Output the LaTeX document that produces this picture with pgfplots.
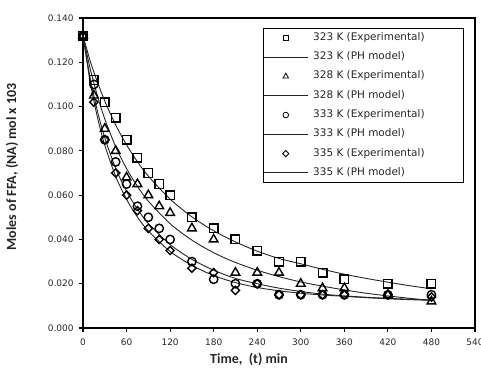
\documentclass[border=0pt]{standalone}
\usepackage{pgfplots}
\pgfplotsset{compat=1.18}
\usepackage{fontspec}
\setmainfont{DejaVu Sans}
\newfontfamily\labelfont{Carlito}
\newcommand\legtxt[1]{\makebox[150bp][l]{#1}}
\begin{document}
\begin{tikzpicture}
\begin{axis}[name=ax, scale only axis, width=392bp, height=310bp,
  xmin=0, xmax=540, ymin=0, ymax=0.14,
  xtick={0,60,120,180,240,300,360,420,480,540},
  ytick={0,0.02,0.04,0.06,0.08,0.1,0.12,0.14},
  tick pos=left, tick align=outside, major tick length=4bp,
  tick style={black, line width=1.2bp},
  axis line style={line width=2bp},
  ticklabel style={font=\fontsize{9}{10}\selectfont, text=black!85},
  yticklabel style={xshift=-2bp, /pgf/number format/.cd, fixed, fixed zerofill, precision=3, assume math mode=true},
  xticklabel style={yshift=-3bp, /pgf/number format/assume math mode=true},
  scaled y ticks=false,
  xlabel={Time,\ \ (t) min}, ylabel={Moles of FFA, (NA) mol x 103},
  label style={font=\labelfont\bfseries\fontsize{14}{16}\selectfont, text=black!85},
  xlabel style={at={(axis description cs:0.4235,-0.1)}, anchor=center},
  ylabel style={at={(axis description cs:-0.1811,0.52)}, anchor=center},
  clip=false,
  legend style={at={(axis description cs:0.459,0.968)}, anchor=north west, draw=black, line width=0.8bp,
    fill=white, inner xsep=0bp, inner ysep=5bp, row sep=10.3bp, column sep=5bp,
    font=\fontsize{10.5}{12}\selectfont, text=black!85,
    nodes={inner sep=0bp, text height=7bp, text depth=2bp}, cells={anchor=west}},
  expmark/.style={only marks, black,
    legend image code/.code={\path[draw=none, fill=none] (0bp,0bp) -- (44bp,0bp); \draw[##1, mark size=#1, every mark/.append style={line width=0.8bp}] plot[only marks] coordinates {(22bp,0bp)};}},
  model/.style={no marks, smooth, black!85, line width=0.9bp,
    legend image code/.code={\draw[##1] (0bp,0bp) -- (44bp,0bp);}},
]
% 323 K
\addplot[expmark=2.8bp, mark=square, mark size=4.3bp, mark options={line width=1.4bp, fill=none, solid}] coordinates {
(0,0.132)(15,0.112)(30,0.102)(45,0.095)(60,0.085)(75,0.077)(90,0.070)(105,0.065)(120,0.060)
(150,0.050)(180,0.045)(210,0.040)(240,0.035)(270,0.030)(300,0.030)(330,0.025)(360,0.022)(420,0.020)(480,0.020)};
\addlegendentry{\legtxt{323 K (Experimental)}}
\addplot[model] coordinates {
(0,0.132)(10,0.1205)(20,0.1110)(30,0.1025)(45,0.0917)(60,0.0827)(75,0.0751)(90,0.0686)(120,0.0582)
(150,0.0502)(180,0.0439)(210,0.0389)(240,0.0347)(270,0.0314)(300,0.0290)(330,0.0265)(360,0.0243)
(390,0.0224)(420,0.0207)(450,0.0191)(480,0.0177)};
\addlegendentry{\legtxt{323 K (PH model)}}
% 328 K
\addplot[expmark=3.2bp, mark=triangle, mark size=5bp, mark options={line width=1.4bp, fill=none, solid}] coordinates {
(0,0.132)(15,0.105)(30,0.090)(45,0.080)(60,0.068)(75,0.065)(90,0.060)(105,0.055)(120,0.052)
(150,0.045)(180,0.040)(210,0.025)(240,0.025)(270,0.025)(300,0.020)(330,0.018)(360,0.018)(420,0.015)(480,0.012)};
\addlegendentry{\legtxt{328 K (Experimental)}}
\addplot[model] coordinates {
(0,0.132)(10,0.1170)(20,0.1047)(30,0.0944)(45,0.0819)(60,0.0720)(75,0.0640)(90,0.0573)(120,0.0471)
(150,0.0397)(180,0.0340)(210,0.0296)(240,0.0261)(270,0.0232)(300,0.0208)(330,0.0189)(360,0.0172)
(390,0.0157)(420,0.0145)(450,0.0134)(480,0.0124)};
\addlegendentry{\legtxt{328 K (PH model)}}
% 333 K
\addplot[expmark=2.8bp, mark=o, mark size=4.2bp, mark options={line width=1.4bp, fill=none, solid}] coordinates {
(0,0.132)(15,0.110)(30,0.085)(45,0.075)(60,0.065)(75,0.055)(90,0.050)(105,0.045)(120,0.040)
(150,0.030)(180,0.022)(210,0.020)(240,0.020)(270,0.015)(300,0.015)(330,0.015)(360,0.015)(420,0.015)(480,0.015)};
\addlegendentry{\legtxt{333 K (Experimental)}}
\addplot[model] coordinates {
(0,0.132)(10,0.1127)(20,0.0978)(30,0.0859)(45,0.0721)(60,0.0617)(75,0.0537)(90,0.0472)(120,0.0377)
(150,0.0310)(180,0.0261)(210,0.0224)(240,0.0200)(270,0.0180)(300,0.0165)(330,0.0153)(360,0.0145)
(390,0.0139)(420,0.0134)(450,0.0130)(480,0.0127)};
\addlegendentry{\legtxt{333 K (PH model)}}
% 335 K
\addplot[expmark=2.2bp, mark=square, mark size=2.9bp, mark options={line width=1.4bp, fill=none, solid, rotate=45}] coordinates {
(0,0.132)(15,0.102)(30,0.085)(45,0.070)(60,0.060)(75,0.053)(90,0.045)(105,0.040)(120,0.035)
(150,0.027)(180,0.025)(210,0.017)(240,0.020)(270,0.015)(300,0.015)(330,0.015)(360,0.015)(420,0.015)(480,0.014)};
\addlegendentry{\legtxt{335 K (Experimental)}}
\addplot[model] coordinates {
(0,0.132)(10,0.1109)(20,0.0950)(30,0.0826)(45,0.0685)(60,0.0581)(75,0.0501)(90,0.0438)(120,0.0346)
(150,0.0283)(180,0.0237)(210,0.0205)(240,0.0183)(270,0.0168)(300,0.0157)(330,0.0149)(360,0.0143)
(390,0.0137)(420,0.0132)(450,0.0128)(480,0.0125)};
\addlegendentry{\legtxt{335 K (PH model)}}
\end{axis}
\pgfresetboundingbox
\useasboundingbox ([shift={(-83bp,-39bp)}]ax.south west) rectangle ([shift={(6bp,18bp)}]ax.north east);
\end{tikzpicture}
\end{document}
